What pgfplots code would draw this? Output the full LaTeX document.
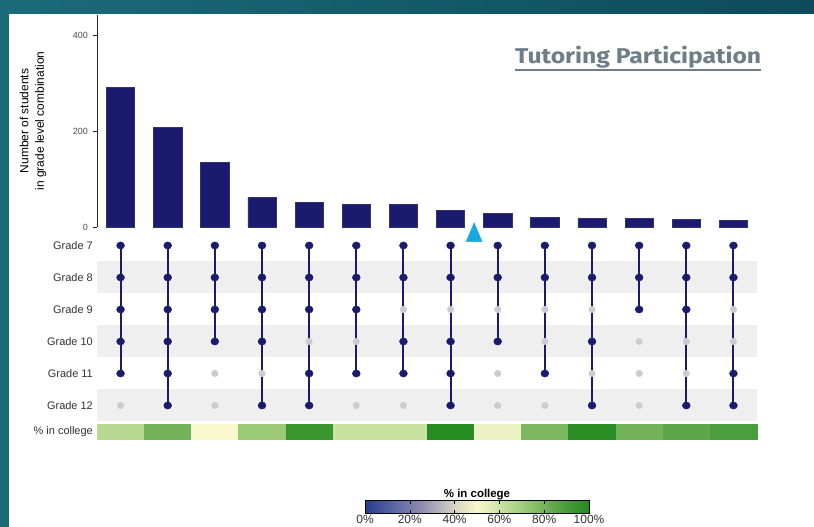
\documentclass[border=0pt]{standalone}
\usepackage{fontspec}
\setmainfont{Liberation Sans}
\newfontfamily\titlefont{Fira Sans}
\usepackage{pgfplots}
\usepackage{pgfplotstable}
\pgfplotsset{compat=1.18}
\definecolor{bg1}{HTML}{1B6B79}
\definecolor{bg2}{HTML}{0E4A5A}
\definecolor{setblue}{HTML}{1A1A6E}
\definecolor{tri}{HTML}{1BA7E0}
\definecolor{titlegray}{HTML}{6E7D87}
\definecolor{stripe}{HTML}{EFEFEF}
\definecolor{dotgray}{HTML}{CCCCCC}
\definecolor{labgray}{HTML}{333333}
\pgfplotsset{colormap={college}{rgb255(0cm)=(35,60,140) rgb255(10cm)=(80,92,160) rgb255(25cm)=(140,140,175) rgb255(40cm)=(215,212,195) rgb255(50cm)=(250,248,205) rgb255(60cm)=(205,228,165) rgb255(70cm)=(160,205,125) rgb255(80cm)=(115,178,90) rgb255(90cm)=(72,155,58) rgb255(100cm)=(34,139,34)}}

% set sizes per grade-level combination
\pgfplotstableread{
c n
0 291
1 207
2 135
3 62
4 51
5 47
6 47
7 35
8 29
9 20
10 18
11 18
12 16
13 13
}\bartbl

% % in college per combination
\pgfplotstableread{
c r p
0 0.5 65
1 0.5 80
2 0.5 50
3 0.5 71
4 0.5 94
5 0.5 61
6 0.5 61
7 0.5 99
8 0.5 53
9 0.5 78
10 0.5 98
11 0.5 80
12 0.5 85
13 0.5 89
}\collegetbl

% rows: Grade 7 = 5, Grade 8 = 4, Grade 9 = 3, Grade 10 = 2, Grade 11 = 1, Grade 12 = 0
\pgfplotstableread{
c r
0 5
0 4
0 3
0 2
0 1
1 5
1 4
1 3
1 2
1 1
1 0
2 5
2 4
2 3
2 2
3 5
3 4
3 3
3 2
3 0
4 5
4 4
4 3
4 1
4 0
5 5
5 4
5 3
5 1
6 5
6 4
6 2
6 1
7 5
7 4
7 2
7 1
7 0
8 5
8 4
8 2
9 5
9 4
9 1
10 5
10 4
10 2
10 0
11 5
11 4
11 3
12 5
12 4
12 3
12 0
13 5
13 4
13 1
13 0
}\ontbl

\pgfplotstableread{
c r
0 0
2 1
2 0
3 1
4 2
5 2
5 0
6 3
6 0
7 3
8 3
8 1
8 0
9 3
9 2
9 0
10 3
10 1
11 2
11 1
11 0
12 2
12 1
13 3
13 2
}\offtbl

\pgfplotstableread{
c r
0 5
0 1
nan nan
1 5
1 0
nan nan
2 5
2 2
nan nan
3 5
3 0
nan nan
4 5
4 0
nan nan
5 5
5 1
nan nan
6 5
6 1
nan nan
7 5
7 0
nan nan
8 5
8 2
nan nan
9 5
9 1
nan nan
10 5
10 0
nan nan
11 5
11 3
nan nan
12 5
12 0
nan nan
13 5
13 0
}\linetbl

\begin{document}
\begin{tikzpicture}[x=1bp,y=1bp]
\path[use as bounding box] (0,0) rectangle (814,527);
\shade[left color=bg1, right color=bg2] (0,0) rectangle (814,527);
\fill[white] (9,0) rectangle (814,513);

% title
\node[anchor=base west, inner sep=0pt, text=titlegray, font=\titlefont\bfseries\fontsize{21.5}{21.5}\selectfont] at (515,463.7) {\resizebox{246bp}{\height}{Tutoring Participation}};
\fill[titlegray] (515,455.7) rectangle (761,457.7);

% bars
\begin{axis}[at={(97bp,300bp)}, anchor=south west, scale only axis,
  width=660bp, height=212bp, xmin=-0.5, xmax=13.5, ymin=0, ymax=441.7,
  axis x line=none, axis y line=left,
  axis line style={-, draw=black!85, line width=0.6bp},
  ytick={0,200,400}, major tick length=4bp, tick align=outside,
  ytick style={draw=black!85, line width=0.6bp},
  /pgf/number format/assume math mode=true,
  yticklabel style={font=\fontsize{9}{9}\selectfont, text=black!70, inner sep=1bp, xshift=-4bp},
  ylabel={Number of students\\in grade level combination},
  ylabel style={font=\fontsize{12}{15.5}\selectfont, align=center, at={(axis description cs:-0.097,0.5)}, anchor=center},
  clip=false]
\addplot[ybar, bar width=0.6, fill=setblue, draw=setblue!75!gray, line width=0.5bp] table[x=c,y=n]{\bartbl};
\addplot[only marks, mark=triangle*, mark size=9.2bp, color=tri, mark options={yscale=1.37, draw=tri, fill=tri}] coordinates {(7.5,-17.4)};
\end{axis}

% matrix
\begin{axis}[at={(97bp,105.5bp)}, anchor=south west, scale only axis,
  width=660bp, height=192bp, xmin=-0.5, xmax=13.5, ymin=-0.5, ymax=5.5,
  axis line style={draw=none}, xtick=\empty,
  ytick={0,...,5}, yticklabels={Grade 12,Grade 11,Grade 10,Grade 9,Grade 8,Grade 7},
  ytick style={draw=none},
  yticklabel style={font=\fontsize{11}{11}\selectfont, text=labgray, inner sep=0pt, xshift=-4bp},
  unbounded coords=jump]
\addplot[fill=stripe, draw=none] coordinates {(-0.5,-0.5) (13.5,-0.5) (13.5,0.5) (-0.5,0.5)} -- cycle;
\addplot[fill=stripe, draw=none] coordinates {(-0.5,1.5) (13.5,1.5) (13.5,2.5) (-0.5,2.5)} -- cycle;
\addplot[fill=stripe, draw=none] coordinates {(-0.5,3.5) (13.5,3.5) (13.5,4.5) (-0.5,4.5)} -- cycle;
\addplot[only marks, mark=*, mark size=3.3bp, color=dotgray] table[x=c,y=r]{\offtbl};
\addplot[setblue, line width=2bp, mark=none] table[x=c,y=r]{\linetbl};
\addplot[only marks, mark=*, mark size=3.6bp, color=setblue, mark options={xscale=1.1}] table[x=c,y=r]{\ontbl};
\end{axis}

% % in college heat row + colour bar
\begin{axis}[at={(97bp,88bp)}, anchor=south west, scale only axis,
  width=660bp, height=15bp, xmin=-0.5, xmax=13.5, ymin=0, ymax=1,
  axis line style={draw=none}, xtick=\empty,
  ytick={0.5}, yticklabels={\% in college}, ytick style={draw=none},
  yticklabel style={font=\fontsize{11}{11}\selectfont, text=labgray, inner sep=0pt, xshift=-4bp},
  colormap name=college, point meta min=0, point meta max=100,
  colorbar horizontal,
  colorbar style={
    at={(parent axis.south west)}, anchor=north west, xshift=268bp, yshift=-53.2bp,
    scale only axis, width=224bp, height=12.6bp,
    xtick={0,20,40,60,80,100},
    xticklabel={\pgfmathprintnumber[assume math mode=true]{\tick}\%},
    xticklabel style={font=\fontsize{12}{12}\selectfont, text=labgray, inner sep=0.5bp, yshift=-1bp},
    major tick length=3bp, tick align=inside, xtick pos=both,
    axis line style={black, line width=0.6bp},
    tick style={black, line width=0.6bp},
    title={\% in college},
    title style={font=\fontsize{11.5}{11.5}\selectfont\bfseries, inner sep=0.5bp, yshift=-6bp},
  }]
\addplot[scatter, only marks, mark=square*, mark size=7.5bp,
  scatter/use mapped color={draw=mapped color, fill=mapped color},
  mark options={xscale=3.143, line width=0.1bp}, point meta=explicit]
  table[x=c, y=r, meta=p]{\collegetbl};
\end{axis}
\end{tikzpicture}
\end{document}
